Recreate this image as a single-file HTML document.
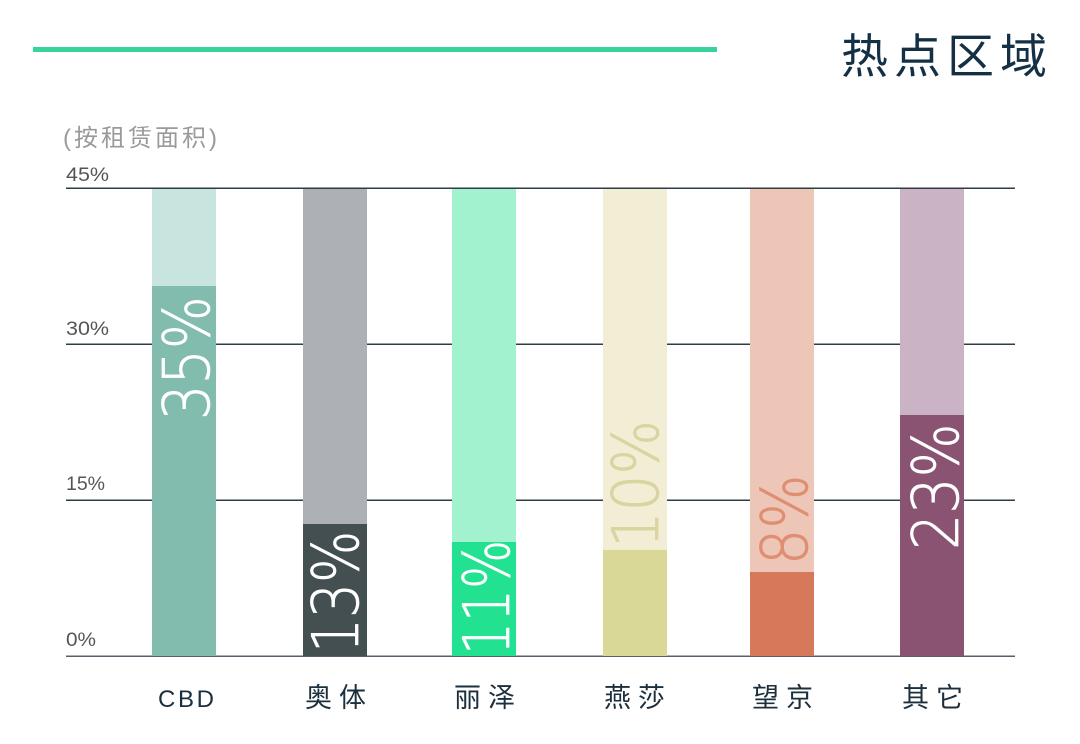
<!DOCTYPE html>
<html>
<head>
<meta charset="utf-8">
<style>
html,body{margin:0;padding:0;background:#fff;}
body{position:relative;width:1080px;height:744px;overflow:hidden;}
svg{display:block;position:absolute;left:0;top:0;}
.v{position:absolute;font-family:"DejaVu Sans",sans-serif;font-weight:200;font-size:64px;line-height:64px;height:64px;white-space:nowrap;transform-origin:0 0;-webkit-text-stroke-width:0.7px;-webkit-text-stroke-color:currentColor;}
</style>
</head>
<body>
<svg width="1080" height="744" viewBox="0 0 1080 744" xmlns="http://www.w3.org/2000/svg">
  <rect x="0" y="0" width="1080" height="744" fill="#ffffff"/>
  <!-- top green line -->
  <rect x="33" y="47" width="684" height="5" fill="#38d39b"/>
  <!-- title -->
  <text x="841" y="73" style="font-family:'Liberation Sans','Noto Sans CJK SC',sans-serif" font-size="47" fill="#143045" letter-spacing="6">热点区域</text>
  <!-- subtitle -->
  <text x="63" y="146" style="font-family:'Liberation Sans','Noto Sans CJK SC',sans-serif" font-size="24" fill="#9a9a9a" textLength="154" lengthAdjust="spacing">(按租赁面积)</text>

  <!-- y labels -->
  <g style="font-family:'Liberation Sans',sans-serif" font-size="19" fill="#555">
    <text x="66" y="181" textLength="43" lengthAdjust="spacingAndGlyphs">45%</text>
    <text x="66" y="335" textLength="43" lengthAdjust="spacingAndGlyphs">30%</text>
    <text x="66" y="490" textLength="39" lengthAdjust="spacingAndGlyphs">15%</text>
    <text x="66" y="646" textLength="30" lengthAdjust="spacingAndGlyphs">0%</text>
  </g>

  <!-- grid lines -->
  <rect x="66" y="187.5" width="949" height="1.5" fill="#2f3d45"/>
  <rect x="66" y="343.5" width="949" height="1.5" fill="#2f3d45"/>
  <rect x="66" y="499.5" width="949" height="1.5" fill="#2f3d45"/>
  <rect x="66" y="655.5" width="949" height="1.5" fill="#56606a"/>

  <!-- CBD -->
  <rect x="152" y="189" width="64" height="467" fill="#c7e4df"/>
  <rect x="152" y="286" width="64" height="370" fill="#82bcae"/>
  <!-- 奥体 -->
  <rect x="303" y="189" width="64" height="467" fill="#adb0b5"/>
  <rect x="303" y="524" width="64" height="132" fill="#434f50"/>
  <!-- 丽泽 -->
  <rect x="452" y="189" width="64" height="467" fill="#a3f2cf"/>
  <rect x="452" y="542" width="64" height="114" fill="#22e292"/>
  <!-- 燕莎 -->
  <rect x="603" y="189" width="64" height="467" fill="#f1eed5"/>
  <rect x="603" y="550" width="64" height="106" fill="#dad896"/>
  <!-- 望京 -->
  <rect x="750" y="189" width="64" height="467" fill="#eec6b7"/>
  <rect x="750" y="572" width="64" height="84" fill="#d6785a"/>
  <!-- 其它 -->
  <rect x="900" y="189" width="64" height="467" fill="#cab3c4"/>
  <rect x="900" y="415" width="64" height="241" fill="#8a5372"/>

  <!-- category labels -->
  <text x="158" y="707" style="font-family:'Liberation Sans',sans-serif" font-size="24" fill="#1c2f3c" textLength="56" lengthAdjust="spacing">CBD</text>
  <g style="font-family:'Liberation Sans','Noto Sans CJK SC',sans-serif" font-size="27" fill="#1c2f3c" letter-spacing="7">
    <text x="305" y="707">奥体</text>
    <text x="454" y="707">丽泽</text>
    <text x="604" y="707">燕莎</text>
    <text x="752" y="707">望京</text>
    <text x="902" y="707">其它</text>
  </g>
</svg>

<!-- rotated value labels -->
<div class="v" style="left:156px;top:420px;color:#fff;transform:rotate(-90deg) scaleX(0.87);">35%</div>
<div class="v" style="left:305px;top:653px;color:#fff;transform:rotate(-90deg) scaleX(0.86);">13%</div>
<div class="v" style="left:456px;top:655px;color:#fff;transform:rotate(-90deg) scaleX(0.81);">11%</div>
<div class="v" style="left:605px;top:548px;color:#d8d5a0;transform:rotate(-90deg) scaleX(0.90);">10%</div>
<div class="v" style="left:754px;top:565px;color:#df8e72;transform:rotate(-90deg) scaleX(0.89);">8%</div>
<div class="v" style="left:905px;top:550px;color:#fff;transform:rotate(-90deg) scaleX(0.89);">23%</div>
</body>
</html>
